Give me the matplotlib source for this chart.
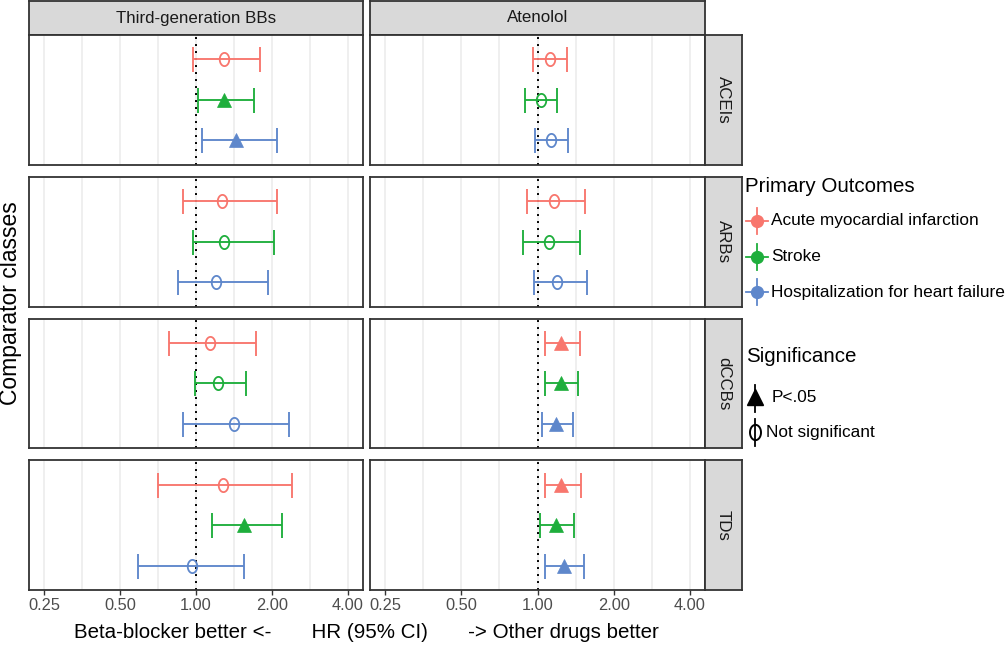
import numpy as np
import matplotlib
matplotlib.use('Agg')
import matplotlib.pyplot as plt
from matplotlib.path import Path
from matplotlib.ticker import NullFormatter

plt.rcParams['font.family'] = ['Liberation Sans', 'DejaVu Sans']

# ---- data ----
bb_types = ['Third-generation BBs', 'Atenolol']
comparators = ['ACEIs', 'ARBs', 'dCCBs', 'TDs']
outcomes = ['Acute myocardial infarction', 'Stroke', 'Hospitalization for heart failure']

# Third-generation BBs (rows = comparators, cols = outcomes)
hr_third = [[1.29, 1.29, 1.44], [1.27, 1.29, 1.20], [1.14, 1.22, 1.42], [1.28, 1.55, 0.96]]
lo_third = [[0.97, 1.02, 1.06], [0.89, 0.97, 0.85], [0.78, 0.99, 0.89], [0.71, 1.16, 0.59]]
hi_third = [[1.79, 1.70, 2.10], [2.09, 2.03, 1.93], [1.73, 1.58, 2.34], [2.40, 2.19, 1.55]]
sig_third = [[0, 1, 1], [0, 0, 0], [0, 0, 0], [0, 1, 0]]

# Atenolol
hr_aten = [[1.12, 1.03, 1.13], [1.16, 1.11, 1.19], [1.24, 1.24, 1.18], [1.24, 1.18, 1.27]]
lo_aten = [[0.96, 0.89, 0.98], [0.91, 0.88, 0.97], [1.07, 1.07, 1.04], [1.07, 1.02, 1.07]]
hi_aten = [[1.31, 1.19, 1.32], [1.54, 1.47, 1.57], [1.47, 1.45, 1.38], [1.49, 1.39, 1.53]]
sig_aten = [[0, 0, 0], [0, 0, 0], [1, 1, 1], [1, 1, 1]]

tick_vals = [0.25, 0.5, 1, 2, 4]
tick_labels = ['0.25', '0.50', '1.00', '2.00', '4.00']
colors = ['#F8766D', '#1EAE3C', '#5E87CB']

hr_all = [hr_third, hr_aten]
lo_all = [lo_third, lo_aten]
hi_all = [hi_third, hi_aten]
sig_all = [sig_third, sig_aten]

# ---- layout (pixels) ----
W, H = 1007, 645
fig = plt.figure(figsize=(W / 100, H / 100), dpi=100)


def box(x0, y0, x1, y1):
    return [x0 / W, 1 - y1 / H, (x1 - x0) / W, (y1 - y0) / H]


theta = np.linspace(0, 2 * np.pi, 64)
ellipse = Path(np.column_stack([0.72 * np.cos(theta), np.sin(theta)]), closed=True)

col_x = [(29, 363), (370, 705)]
row_h = 129.75
row_y = [(35 + r * (row_h + 12), 35 + r * (row_h + 12) + row_h) for r in range(4)]
minor_vals = [v * np.sqrt(2) for v in tick_vals[:-1]]
edge = '#333333'

for c, bb in enumerate(bb_types):
    x0, x1 = col_x[c]
    # top strip
    st = fig.add_axes(box(x0, 1, x1, 35))
    st.set_facecolor('#D9D9D9')
    st.set_xticks([]); st.set_yticks([])
    for s in st.spines.values():
        s.set_color(edge); s.set_linewidth(1.3)
    st.text(0.5, 0.5, bb, ha='center', va='center', fontsize=12.2, color='#1A1A1A',
            transform=st.transAxes)

    for r, comp in enumerate(comparators):
        y0, y1 = row_y[r]
        ax = fig.add_axes(box(x0, y0, x1, y1))
        ax.set_xscale('log', base=2)
        ax.set_xlim(0.25 * 2 ** -0.2, 4 * 2 ** 0.2)
        ax.set_ylim(2.6, -0.6)
        ax.set_xticks(tick_vals)
        ax.set_xticklabels(tick_labels)
        ax.set_xticks(minor_vals, minor=True)
        ax.xaxis.set_minor_formatter(NullFormatter())
        ax.grid(axis='x', which='both', color='#EBEBEB', lw=1.1)
        ax.set_axisbelow(True)
        ax.set_yticks([])
        ax.tick_params(axis='x', which='minor', length=0)
        if r < 3:
            ax.tick_params(axis='x', which='major', length=0, labelbottom=False)
        else:
            ax.tick_params(axis='x', which='major', length=3.5, width=1, color=edge,
                           labelsize=11.8, labelcolor='#4D4D4D', pad=2)
        for s in ax.spines.values():
            s.set_color(edge); s.set_linewidth(1.3)
        ax.axvline(1, color='black', ls=(0, (1, 2.6)), lw=1.4, zorder=2)

        for i in range(3):
            hr = hr_all[c][r][i]
            lo = lo_all[c][r][i]
            hi = hi_all[c][r][i]
            ax.errorbar([hr], [i], xerr=[[hr - lo], [hi - hr]], fmt='none',
                        ecolor=colors[i], elinewidth=1.35, capsize=9, capthick=1.35,
                        zorder=3)
            if sig_all[c][r][i]:
                ax.plot([hr], [i], marker='^', ms=10, color=colors[i],
                        mec=colors[i], mew=0.5, ls='none', zorder=4)
            else:
                ax.plot([hr], [i], marker=ellipse, ms=9.5, mfc='none',
                        mec=colors[i], mew=1.3, ls='none', zorder=4)

        if c == 1:
            rs = fig.add_axes(box(705, y0, 742, y1))
            rs.set_facecolor('#D9D9D9')
            rs.set_xticks([]); rs.set_yticks([])
            for s in rs.spines.values():
                s.set_color(edge); s.set_linewidth(1.3)
            rs.text(0.5, 0.5, comp, ha='center', va='center', rotation=270,
                    fontsize=12.2, color='#1A1A1A', transform=rs.transAxes)

# axis titles
fig.text(11 / W, 1 - 303 / H, 'Comparator classes', rotation=90, ha='center',
         va='center', fontsize=16.5)
fig.text(366 / W, 1 - 632 / H,
         'Beta-blocker better <-       HR (95% CI)       -> Other drugs better',
         ha='center', va='center', fontsize=14.8)

# ---- legend ----
lg = fig.add_axes(box(742, 160, 1007, 450))
lg.set_xlim(742, 1007)
lg.set_ylim(450, 160)
lg.axis('off')
lg.text(745, 187, 'Primary Outcomes', fontsize=14.8, va='center', ha='left')
for i, name in enumerate(outcomes):
    yy = 221 + i * 35.5
    lg.plot([746, 768], [yy, yy], color=colors[i], lw=1.3)
    lg.plot([757, 757], [yy - 13, yy + 13], color=colors[i], lw=1.3)
    lg.plot([757], [yy], marker='o', ms=8.5, color=colors[i], ls='none')
    lg.text(771, yy, name, fontsize=12.4, va='center', ha='left')

lg.text(746, 357, 'Significance', fontsize=14.8, va='center', ha='left')
lg.plot([755, 755], [385, 412], color='black', lw=1.3)
lg.plot([755], [397], marker='^', ms=11, color='black', ls='none')
lg.text(772, 398, 'P<.05', fontsize=12.4, va='center', ha='left')
lg.plot([755, 755], [419, 446], color='black', lw=1.3)
lg.plot([755], [432], marker=ellipse, ms=11, mfc='none', mec='black', mew=1.4, ls='none')
lg.text(766, 432, 'Not significant', fontsize=12.4, va='center', ha='left')

fig.savefig('out.png', dpi=100)
